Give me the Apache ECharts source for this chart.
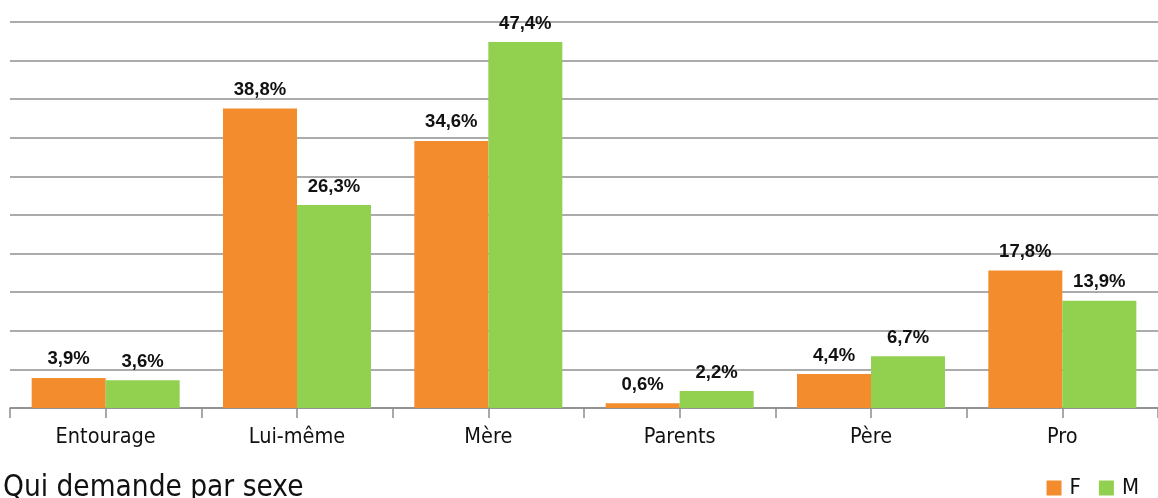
<!DOCTYPE html>
<html>
<head>
<meta charset="utf-8">
<script src="https://cdn.jsdelivr.net/npm/echarts@6/dist/echarts.min.js"></script>
<style>
html,body{margin:0;padding:0;background:#fff;}
#chart{width:1158px;height:498px;}
</style>
</head>
<body>
<div id="chart"></div>
<script>
const categories = ['Entourage', 'Lui-même', 'Mère', 'Parents', 'Père', 'Pro'];
const seriesF = [3.9, 38.8, 34.6, 0.6, 4.4, 17.8];
const seriesM = [3.6, 26.3, 47.4, 2.2, 6.7, 13.9];
const seriesNames = ['F', 'M'];
const titleText = 'Qui demande par sexe';

const narrow = '"Liberation Sans Narrow", "DejaVu Sans Condensed", "Liberation Sans", sans-serif';
const fmt = v => String(v.value).replace('.', ',') + '%';
const labelStyle = {
  show: true, position: 'top', distance: 9,
  fontFamily: '"Liberation Sans", Arial, sans-serif', fontWeight: 'bold',
  fontSize: 18.5, color: '#111', formatter: fmt
};

const chart = echarts.init(document.getElementById('chart'));
chart.setOption({
  animation: false,
  title: {
    text: titleText, left: -2, top: 468,
    textStyle: { fontFamily: narrow, fontWeight: 'normal', fontSize: 29.5, color: '#111' }
  },
  legend: {
    data: seriesNames, right: 14, top: 472, icon: 'rect',
    itemWidth: 15, itemHeight: 15, itemGap: 18,
    textStyle: { fontFamily: narrow, fontSize: 22, color: '#111', padding: [0, 0, 0, 3] }
  },
  grid: { left: 10, width: 1152, top: 22, bottom: 90 },
  xAxis: [
    {
      type: 'category', data: categories,
      axisLine: { show: true, lineStyle: { color: '#8c8c8c', width: 1.5 } },
      axisTick: { show: false },
      axisLabel: { fontFamily: narrow, fontSize: 21.5, color: '#111', margin: 18 }
    },
    {
      type: 'value', min: 0, max: 12, interval: 1, position: 'bottom',
      axisLine: { show: false },
      axisTick: { show: true, length: 10, lineStyle: { color: '#8c8c8c', width: 1.5 } },
      axisLabel: { show: false },
      splitLine: { show: false }
    }
  ],
  yAxis: {
    type: 'value', min: 0, max: 50, interval: 5,
    axisLabel: { show: false }, axisLine: { show: false }, axisTick: { show: false },
    splitLine: { lineStyle: { color: '#8f8f8f', width: 1.5 } }
  },
  series: [
    { name: seriesNames[0], type: 'bar', data: seriesF, barWidth: 74, barGap: '0%',
      itemStyle: { color: '#F28C2C' }, label: labelStyle },
    { name: seriesNames[1], type: 'bar', data: seriesM, barWidth: 74, barGap: '0%',
      itemStyle: { color: '#92D050' }, label: labelStyle }
  ]
});
</script>
</body>
</html>
